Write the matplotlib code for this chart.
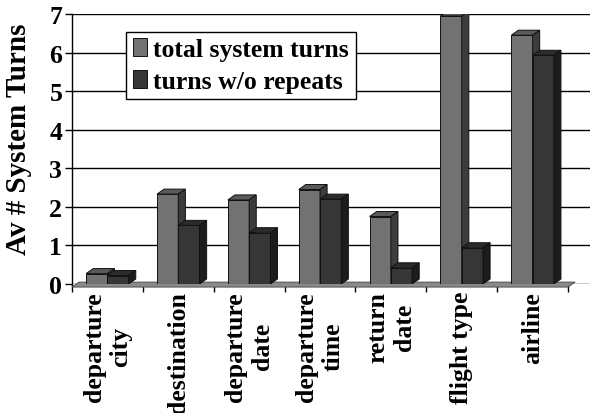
import matplotlib.pyplot as plt
from matplotlib.patches import Polygon
import numpy as np

categories = ["departure\ncity", "destination", "departure\ndate", "departure\ntime",
              "return\ndate", "flight type", "airline"]
total_turns = [0.27, 2.33, 2.18, 2.45, 1.75, 6.95, 6.45]
no_repeats = [0.22, 1.52, 1.33, 2.2, 0.42, 0.94, 5.93]
series_names = ["total system turns", "turns w/o repeats"]

plt.rcParams['font.family'] = ['Liberation Serif', 'DejaVu Serif']
plt.rcParams['font.weight'] = 'bold'
plt.rcParams['axes.labelweight'] = 'bold'

fig = plt.figure(figsize=(5.9, 4.14), dpi=100)
ax = fig.add_axes([72 / 590, 129 / 414, 1 - 72 / 590, 270 / 414])

x = np.arange(len(categories))
w = 0.3
dx, dy = 0.1, 0.13

# (front, top, side) shades per series
shades = [("#727272", "#5a5a5a", "#3c3c3c"), ("#363636", "#2b2b2b", "#1c1c1c")]

# floor strip
ax.add_patch(Polygon([(-0.5, -0.08), (6.5, -0.08), (6.5 + dx, 0.05), (-0.5 + dx, 0.05)],
                     closed=True, facecolor="#8a8a8a", edgecolor="#444444", lw=0.6,
                     clip_on=False, zorder=2))

for k, vals in enumerate([total_turns, no_repeats]):
    front, top, side = shades[k]
    bars = ax.bar(x - w / 2 + k * w, vals, width=w, color=front, edgecolor="#111111",
                  linewidth=0.7, zorder=4 + 0.1 * k, label=series_names[k])
    for r in bars:
        x0, x1, h = r.get_x(), r.get_x() + r.get_width(), r.get_height()
        ax.add_patch(Polygon([(x0, h), (x1, h), (x1 + dx, h + dy), (x0 + dx, h + dy)],
                             closed=True, facecolor=top, edgecolor="#111111", lw=0.7,
                             zorder=r.get_zorder()))
        ax.add_patch(Polygon([(x1, 0), (x1 + dx, dy), (x1 + dx, h + dy), (x1, h)],
                             closed=True, facecolor=side, edgecolor="#111111", lw=0.7,
                             zorder=r.get_zorder()))

ax.set_xlim(-0.5, 6.81)
ax.set_ylim(0, 7)
ax.set_yticks(range(8))
ax.yaxis.grid(True, color="black", lw=1.0)
ax.set_axisbelow(True)
ax.tick_params(axis='y', labelsize=18.5, length=5, width=1, pad=2)

ax.set_xticks(x)
ax.set_xticklabels(categories, rotation=90, fontsize=18.5, linespacing=1.2,
                   ha='center', va='top', multialignment='center')
ax.tick_params(axis='x', length=0, pad=5)
ax.set_xticks(np.arange(-0.5, 7.0, 1), minor=True)
ax.tick_params(axis='x', which='minor', length=6, width=1)

for s in ["top", "right", "bottom"]:
    ax.spines[s].set_visible(False)
ax.spines["left"].set_linewidth(1)

ax.set_ylabel("Av # System Turns", fontsize=21)
ax.yaxis.set_label_coords(-0.077, 0.54)

leg = ax.legend(loc='upper left', bbox_to_anchor=(0.105, 0.935), fontsize=18.5,
                frameon=True, fancybox=False, edgecolor="black", framealpha=1,
                handlelength=0.55, handleheight=0.65, handletextpad=0.25,
                borderpad=0.25, labelspacing=0.35, borderaxespad=0)
leg.get_frame().set_linewidth(1)
leg.set_zorder(10)

fig.savefig("out.png", dpi=100)
